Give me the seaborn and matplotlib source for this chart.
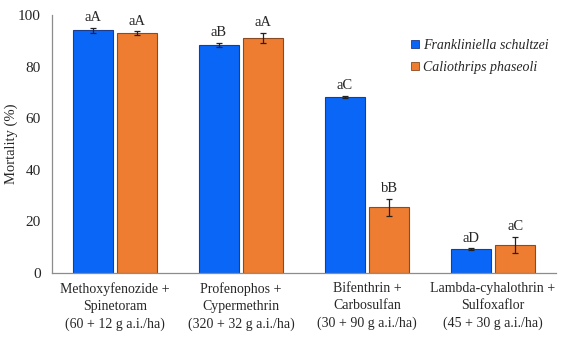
import matplotlib
matplotlib.use("Agg")
import matplotlib.pyplot as plt
import seaborn as sns
import pandas as pd
import numpy as np
from matplotlib.patches import Patch

categories = ["Methoxyfenozide +\nSpinetoram\n(60 + 12 g a.i./ha)",
              "Profenophos +\nCypermethrin\n(320 + 32 g a.i./ha)",
              "Bifenthrin +\nCarbosulfan\n(30 + 90 g a.i./ha)",
              "Lambda-cyhalothrin +\nSulfoxaflor\n(45 + 30 g a.i./ha)"]
species = ["Frankliniella schultzei", "Caliothrips phaseoli"]
f_values = [94.0, 88.3, 68.2, 9.1]
c_values = [93.1, 91.2, 25.3, 10.9]
f_err = [1.1, 0.9, 0.5, 0.5]
c_err = [0.7, 2.0, 3.4, 3.1]
f_letters = ["aA", "aB", "aC", "aD"]
c_letters = ["aA", "aA", "bB", "aC"]
yticks = [0, 20, 40, 60, 80, 100]

sns.set_style("white")
plt.rcParams['font.family'] = ['Liberation Serif', 'DejaVu Serif']

df = pd.DataFrame({
    "cat": categories * 2,
    "species": [species[0]] * 4 + [species[1]] * 4,
    "value": f_values + c_values,
    "err": f_err + c_err,
    "letter": f_letters + c_letters,
})

colors = ["#0A66F7", "#EE7D31"]
edges = ["#1E3C8C", "#8A4A22"]

fig = plt.figure(figsize=(5.67, 3.37), dpi=100)
ax = fig.add_axes([0.0917, 0.191, 0.889, 0.7645])
sns.barplot(data=df, x="cat", y="value", hue="species", order=categories,
            hue_order=species, palette=colors, saturation=1, width=0.7, gap=0.11,
            errorbar=None, ax=ax, legend=False)

for i, sp in enumerate(species):
    cont = ax.containers[i]
    sub = df[df.species == sp].set_index("cat").loc[categories]
    xs = []
    for p in cont.patches:
        p.set_edgecolor(edges[i])
        p.set_linewidth(0.8)
        xs.append(p.get_x() + p.get_width() / 2)
    xs = np.array(xs)
    ax.errorbar(xs, sub["value"].values, yerr=sub["err"].values, fmt="none",
                ecolor="#222222", elinewidth=0.9, capsize=2.2, capthick=0.9)
    for x, v, e, t in zip(xs, sub["value"].values, sub["err"].values, sub["letter"].values):
        ax.text(x, v + e + 1.3, t, ha="center", va="bottom", fontsize=10.5)

ax.set_ylim(0, 100)
ax.set_xlim(-0.5, 3.5)
ax.set_yticks(yticks)
ax.set_ylabel("Mortality (%)", fontsize=10.5)
ax.yaxis.set_label_coords(-0.068, 0.5)
ax.set_xlabel("")
for s in ["top", "right"]:
    ax.spines[s].set_visible(False)
for s in ["left", "bottom"]:
    ax.spines[s].set_color("#8C8C8C")
    ax.spines[s].set_linewidth(0.9)

ax.set_xticks([0, 1, 2, 3])
ax.set_xticklabels(categories, fontsize=10, linespacing=1.4)
ax.tick_params(axis="x", length=0, pad=7)
ax.set_xticks([-0.5, 0.5, 1.5, 2.5, 3.5], minor=True)
ax.tick_params(axis="x", which="minor", length=4, color="#8C8C8C", width=0.9, direction="out")
ax.tick_params(axis="y", length=5, color="#8C8C8C", width=0.9, direction="out", labelsize=11, pad=3)

handles = [Patch(facecolor=colors[i], edgecolor=edges[i], linewidth=0.6) for i in range(2)]
ax.legend(handles, species, loc="upper left", bbox_to_anchor=(0.712, 0.907),
          frameon=False, prop={"family": "Liberation Serif", "style": "italic", "size": 10},
          handlelength=0.6, handleheight=0.6, handletextpad=0.25, labelspacing=0.65,
          borderaxespad=0, borderpad=0)

fig.savefig("out.png", dpi=100)
